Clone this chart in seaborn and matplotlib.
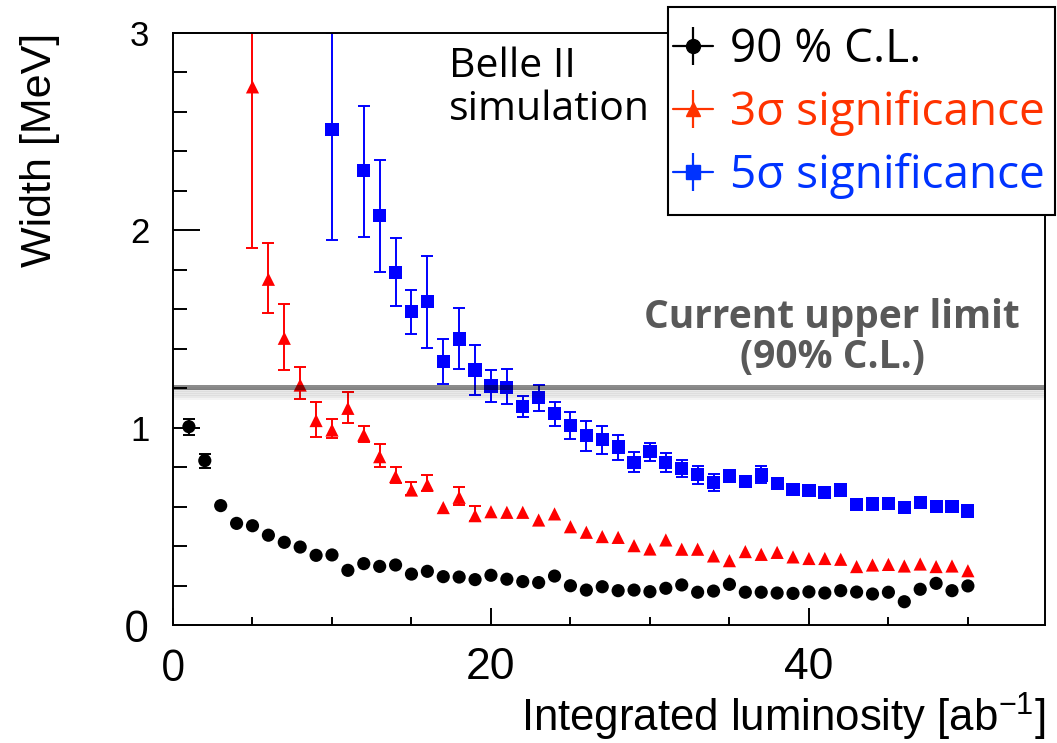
import numpy as np
import pandas as pd
import matplotlib
matplotlib.use("Agg")
import matplotlib.pyplot as plt
import matplotlib.patheffects as pe
from matplotlib.lines import Line2D
from matplotlib.patches import Rectangle
from matplotlib.ticker import MultipleLocator
import seaborn as sns

# ---- data ----
lumi_cl = list(range(1, 51))
width_cl = [1.005, 0.833, 0.605, 0.515, 0.503, 0.455, 0.419, 0.395, 0.353, 0.355,
            0.277, 0.311, 0.297, 0.304, 0.258, 0.272, 0.245, 0.243, 0.230, 0.252,
            0.232, 0.220, 0.215, 0.248, 0.199, 0.177, 0.194, 0.174, 0.177, 0.169,
            0.186, 0.203, 0.166, 0.172, 0.206, 0.166, 0.166, 0.162, 0.160, 0.168,
            0.162, 0.174, 0.167, 0.157, 0.166, 0.118, 0.181, 0.211, 0.174, 0.198]
err_cl_x = [1, 2]
err_cl_lo = [0.965, 0.798]
err_cl_hi = [1.045, 0.868]

lumi_3s = list(range(5, 51))
width_3s = [2.727, 1.752, 1.453, 1.216, 1.036, 0.988, 1.098, 0.963, 0.853, 0.752,
            0.684, 0.710, 0.595, 0.647, 0.554, 0.574, 0.571, 0.571, 0.532, 0.563,
            0.498, 0.470, 0.448, 0.444, 0.402, 0.385, 0.431, 0.384, 0.384, 0.350,
            0.326, 0.372, 0.358, 0.368, 0.345, 0.337, 0.337, 0.333, 0.296, 0.304,
            0.307, 0.299, 0.309, 0.296, 0.299, 0.275]
err_3s_x = [5, 6, 7, 8, 9, 10, 11, 12, 13, 14, 15, 16, 18, 19]
err_3s_lo = [1.912, 1.580, 1.292, 1.145, 0.954, 0.949, 1.025, 0.929, 0.802, 0.718,
             0.659, 0.681, 0.608, 0.529]
err_3s_hi = [3.000, 1.934, 1.627, 1.309, 1.132, 1.043, 1.183, 1.009, 0.917, 0.802,
             0.726, 0.760, 0.698, 0.603]

lumi_5s = [10] + list(range(12, 51))
width_5s = [2.512, 2.303, 2.076, 1.786, 1.588, 1.639, 1.335, 1.449, 1.292, 1.211,
            1.205, 1.106, 1.154, 1.073, 1.009, 0.960, 0.938, 0.902, 0.825, 0.878,
            0.825, 0.794, 0.764, 0.721, 0.755, 0.726, 0.760, 0.718, 0.688, 0.680,
            0.672, 0.684, 0.610, 0.613, 0.617, 0.597, 0.620, 0.600, 0.600, 0.578]
err_5s_x = [10, 12, 13, 14, 15, 16, 17, 18, 19, 20, 21, 22, 23, 24, 25, 26, 27, 28,
            29, 30, 31, 32, 33, 34, 37]
err_5s_lo = [1.951, 1.968, 1.791, 1.617, 1.475, 1.405, 1.220, 1.296, 1.166, 1.132,
             1.118, 1.053, 1.086, 1.010, 0.941, 0.882, 0.865, 0.836, 0.774, 0.830,
             0.777, 0.752, 0.715, 0.681, 0.718]
err_5s_hi = [3.000, 2.630, 2.357, 1.961, 1.698, 1.870, 1.449, 1.605, 1.419, 1.292,
             1.297, 1.161, 1.216, 1.132, 1.078, 1.036, 1.009, 0.963, 0.875, 0.924,
             0.872, 0.836, 0.808, 0.764, 0.808]

upper_limit = 1.206
series_names = ["90 % C.L.", "3\u03c3 significance", "5\u03c3 significance"]

df = pd.concat([
    pd.DataFrame({"lumi": lumi_cl, "width": width_cl, "series": series_names[0]}),
    pd.DataFrame({"lumi": lumi_3s, "width": width_3s, "series": series_names[1]}),
    pd.DataFrame({"lumi": lumi_5s, "width": width_5s, "series": series_names[2]}),
], ignore_index=True)

mark_col = {series_names[0]: "black", series_names[1]: "#ff0000", series_names[2]: "#0000ff"}
text_col = ["black", "#ff3300", "#0033ff"]
mark_sty = {series_names[0]: "o", series_names[1]: "^", series_names[2]: "s"}

sns.set_style("ticks")
plt.rcParams["font.family"] = ["Liberation Sans", "DejaVu Sans"]
plt.rcParams["mathtext.fontset"] = "custom"
plt.rcParams["mathtext.rm"] = "Liberation Sans"
for k in ("text.color", "axes.labelcolor", "xtick.color", "ytick.color",
          "xtick.labelcolor", "ytick.labelcolor"):
    plt.rcParams[k] = "black"
annot_font = ["Open Sans", "DejaVu Sans"]

fig = plt.figure(figsize=(10.57, 7.43), dpi=100)
ax = fig.add_axes([173 / 1057, 118 / 743, 872 / 1057, 592 / 743])

# error bars
for ex, lo, hi, name in [(err_cl_x, err_cl_lo, err_cl_hi, series_names[0]),
                         (err_3s_x, err_3s_lo, err_3s_hi, series_names[1]),
                         (err_5s_x, err_5s_lo, err_5s_hi, series_names[2])]:
    sub = df[df.series == name].set_index("lumi").loc[ex, "width"].values
    lo = np.array(lo)
    hi = np.array(hi)
    ax.errorbar(ex, sub, yerr=[sub - lo, hi - sub], fmt="none",
                ecolor=mark_col[name], elinewidth=1.4, capsize=4, capthick=1.4,
                zorder=2, clip_on=True)

sns.scatterplot(data=df, x="lumi", y="width", hue="series", style="series",
                palette=mark_col, markers=mark_sty, s=90, edgecolor="none",
                linewidth=0, legend=False, ax=ax, zorder=3)

# current upper limit line with a soft shadow
shadow = [pe.SimpleLineShadow(offset=(0, -k), shadow_color="black", alpha=0.045)
          for k in (1.5, 3, 4.5, 6, 7.5)]
ax.axhline(upper_limit, color="black", alpha=0.45, lw=3.6, zorder=4,
           path_effects=shadow + [pe.Normal()])

ax.text(41.45, 1.505, "Current upper limit", family=annot_font, weight="bold",
        fontsize=28, color="#595959", ha="center", va="baseline")
ax.text(41.45, 1.303, "(90% C.L.)", family=annot_font, weight="bold",
        fontsize=28, color="#595959", ha="center", va="baseline")
ax.text(17.35, 2.777, "Belle II", family=annot_font, fontsize=29.5,
        color="black", ha="left", va="baseline")
ax.text(17.35, 2.56, "simulation", family=annot_font, fontsize=29.5,
        color="black", ha="left", va="baseline")

ax.set_xlim(0, 54.85)
ax.set_ylim(0, 3)
ax.xaxis.set_major_locator(MultipleLocator(20))
ax.xaxis.set_minor_locator(MultipleLocator(5))
ax.yaxis.set_major_locator(MultipleLocator(1))
ax.yaxis.set_minor_locator(MultipleLocator(0.2))
ax.tick_params(axis="x", which="major", direction="in", length=12, width=1.4,
               labelsize=32, pad=16, top=False)
ax.tick_params(axis="x", which="minor", direction="in", length=6, width=1.4, top=False)
ax.tick_params(axis="y", which="major", direction="in", length=19.5, width=1.4,
               labelsize=25, pad=17, right=False)
ax.tick_params(axis="y", which="minor", direction="in", length=10, width=1.4, right=False)
for s in ax.spines.values():
    s.set_linewidth(1.4)
    s.set_color("black")
ax.grid(False)

ax.set_xlabel(r"Integrated luminosity [ab$^{\mathrm{-1}}$]", fontsize=31.5)
ax.xaxis.set_label_coords(1.0, -0.112)
ax.xaxis.label.set_ha("right")
ax.xaxis.label.set_va("top")
ax.set_ylabel("Width [MeV]", fontsize=31)
ax.yaxis.set_label_coords(-0.130, 1.0)
ax.yaxis.label.set_ha("right")

fig.canvas.draw()
for lab in ax.get_xticklabels():
    if lab.get_text() in ("0", "0.0"):
        lab.set_fontfamily(annot_font)
        lab.set_fontsize(31)
for lab in ax.get_yticklabels():
    if lab.get_text() == "0":
        lab.set_fontfamily(annot_font)
        lab.set_fontsize(32)

# legend box drawn separately so the entries can sit where they do in the original
fig.add_artist(Rectangle((668 / 1057, 1 - 215 / 743), 387 / 1057, 208 / 743,
                         transform=fig.transFigure, facecolor="white",
                         edgecolor="black", linewidth=1.5, zorder=4))

# legend, ROOT style: marker with horizontal and vertical bars
handles = []
for name, c in zip(series_names, text_col):
    hline = Line2D([], [], color=c, lw=1.6)
    vline = Line2D([], [], color=c, marker="|", markersize=28, markeredgewidth=1.6, ls="none")
    mk = Line2D([], [], color=c, marker=mark_sty[name], markersize=10, ls="none")
    handles.append((hline, vline, mk))
leg = fig.legend(handles, series_names, loc="upper left",
                 bbox_to_anchor=(673 / 1057, 1 - 27 / 743),
                 borderaxespad=0, frameon=False,
                 prop={"family": annot_font, "size": 33},
                 labelcolor=text_col, handlelength=0.87, handletextpad=0.37,
                 borderpad=0, labelspacing=0.37)
leg.set_zorder(5)

fig.savefig("out.png", dpi=100)
